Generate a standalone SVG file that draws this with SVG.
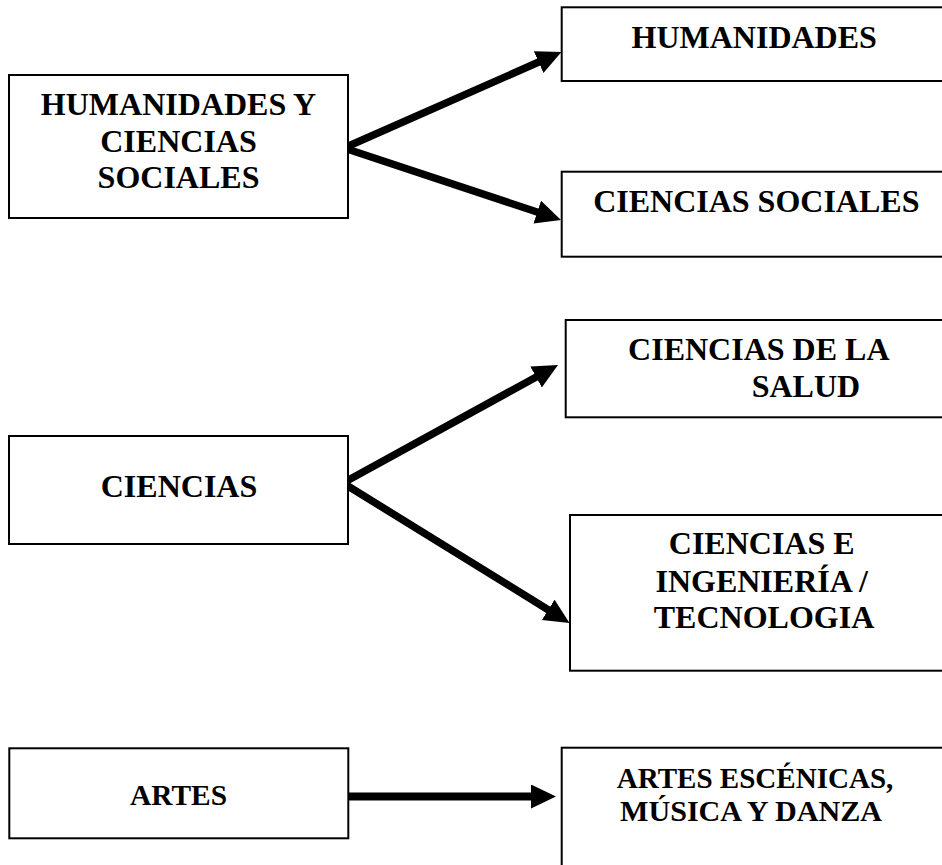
<svg xmlns="http://www.w3.org/2000/svg" width="942" height="865" viewBox="0 0 942 865">
<style>
.box{fill:#fff;stroke:#000;stroke-width:2}
.t{font-family:"Liberation Serif","Times New Roman",serif;font-weight:bold;font-size:32px;fill:#000}
.m{text-anchor:middle}
.b{font-size:29px}
.c{fill:none;stroke:#000;stroke-width:7.5;stroke-linecap:round}
</style>
<defs>
<marker id="ah" markerUnits="userSpaceOnUse" markerWidth="26" markerHeight="26" refX="7" refY="12" orient="auto">
<path d="M0,0 L25,12 L0,24 z" fill="#000"/>
</marker>
</defs>
<rect width="942" height="865" fill="#fff"/>
<g id="connectors">
<line class="c" x1="344" y1="148" x2="545" y2="59.3" marker-end="url(#ah)"/>
<line class="c" x1="344" y1="148" x2="543.9" y2="214.3" marker-end="url(#ah)"/>
<line class="c" x1="343" y1="483" x2="542.2" y2="373.7" marker-end="url(#ah)"/>
<line class="c" x1="343" y1="483" x2="554.2" y2="613.5" marker-end="url(#ah)"/>
<line x1="343" y1="796.5" x2="538" y2="796.5" stroke="#000" stroke-width="8" marker-end="url(#ah)"/>
</g>
<g id="n-hcs">
<rect class="box" x="9" y="75" width="339" height="143"/>
<text class="t m" x="178.5" y="115">HUMANIDADES Y</text>
<text class="t m" x="178.5" y="152">CIENCIAS</text>
<text class="t m" x="178.5" y="188">SOCIALES</text>
</g>
<g id="n-hum">
<rect class="box" x="561.7" y="7.3" width="400" height="73.7"/>
<text class="t m" x="754.2" y="48.3">HUMANIDADES</text>
</g>
<g id="n-cs">
<rect class="box" x="561.7" y="171.7" width="400" height="85"/>
<text class="t m" x="756.3" y="211.7">CIENCIAS SOCIALES</text>
</g>
<g id="n-ciencias">
<rect class="box" x="9" y="436" width="339" height="108"/>
<text class="t m" x="179" y="497">CIENCIAS</text>
</g>
<g id="n-salud">
<rect class="box" x="565.7" y="320" width="400" height="97.3"/>
<text class="t m" x="758.8" y="360">CIENCIAS DE LA</text>
<text class="t" x="751.7" y="397.3">SALUD</text>
</g>
<g id="n-ing">
<rect class="box" x="570" y="515" width="400" height="155.7"/>
<text class="t m" x="761.7" y="554">CIENCIAS E</text>
<text class="t m" x="761.7" y="591.7">INGENIERÍA /</text>
<text class="t m" x="764" y="628.3">TECNOLOGIA</text>
</g>
<g id="n-artes">
<rect class="box" x="9.3" y="748.3" width="339" height="90"/>
<text class="t b" x="130" y="805" textLength="97" lengthAdjust="spacingAndGlyphs">ARTES</text>
</g>
<g id="n-esc">
<rect class="box" x="561.7" y="747.7" width="400" height="140"/>
<text class="t b" x="616.7" y="787.5" textLength="276.7" lengthAdjust="spacingAndGlyphs">ARTES ESCÉNICAS,</text>
<text class="t b" x="620" y="820.5" textLength="262" lengthAdjust="spacingAndGlyphs">MÚSICA Y DANZA</text>
</g>
</svg>
